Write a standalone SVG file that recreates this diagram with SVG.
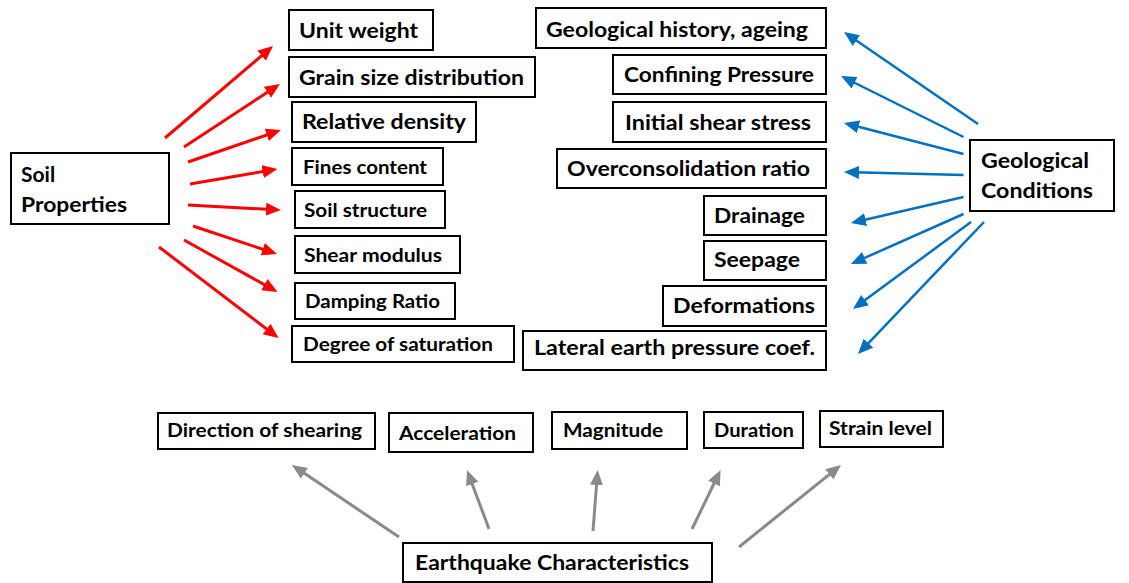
<svg xmlns="http://www.w3.org/2000/svg" width="1129" height="583" viewBox="0 0 1129 583">
  <style>
    .box { fill: #fff; stroke: #000; stroke-width: 2; }
    .lbl { font-family: Lato, "Noto Sans", "Liberation Sans", sans-serif; font-weight: bold; fill: #000; }
    .red { stroke: #ff0000; stroke-width: 3; fill: none; }
    .blue { stroke: #0070c0; stroke-width: 2.5; fill: none; }
    .grey { stroke: #8a8a8a; stroke-width: 3; fill: none; }
  </style>
  <defs>
    <marker id="ahRed" markerUnits="userSpaceOnUse" markerWidth="16" markerHeight="14" refX="5" refY="6.5" orient="auto">
      <path d="M0,0 L15,6.5 L0,13 z" fill="#ff0000"/>
    </marker>
    <marker id="ahBlue" markerUnits="userSpaceOnUse" markerWidth="16" markerHeight="14" refX="5" refY="6.5" orient="auto">
      <path d="M0,0 L15,6.5 L0,13 z" fill="#0070c0"/>
    </marker>
    <marker id="ahGrey" markerUnits="userSpaceOnUse" markerWidth="16" markerHeight="14" refX="5" refY="6.5" orient="auto">
      <path d="M0,0 L15,6.5 L0,13 z" fill="#8a8a8a"/>
    </marker>
  </defs>

  <rect width="1129" height="583" fill="#fff"/>

  <!-- connectors -->
  <g id="connectors">
    <g marker-end="url(#ahRed)" class="red">
      <line x1="165" y1="138" x2="265.4" y2="52.5"/>
      <line x1="184" y1="147" x2="271.6" y2="89.5"/>
      <line x1="188" y1="162" x2="271.5" y2="133.3"/>
      <line x1="190" y1="184" x2="267.6" y2="170.7"/>
      <line x1="188" y1="205" x2="271" y2="209.5"/>
      <line x1="193" y1="226" x2="267.5" y2="250.8"/>
      <line x1="184" y1="240" x2="268.8" y2="287.1"/>
      <line x1="159" y1="247" x2="270.6" y2="332"/>
    </g>
    <g marker-end="url(#ahBlue)" class="blue">
      <line x1="978" y1="124" x2="852.3" y2="37.7"/>
      <line x1="963.5" y1="137" x2="850" y2="80.5"/>
      <line x1="963.5" y1="154" x2="853.7" y2="125.5"/>
      <line x1="963.5" y1="175" x2="854" y2="172.3"/>
      <line x1="963.5" y1="197" x2="860.7" y2="220.8"/>
      <line x1="963.5" y1="214" x2="860.1" y2="259.9"/>
      <line x1="971" y1="222" x2="861" y2="303.1"/>
      <line x1="984" y1="222" x2="864.9" y2="346.8"/>
    </g>
    <g marker-end="url(#ahGrey)" class="grey">
      <line x1="399" y1="537" x2="300.3" y2="470.6"/>
      <line x1="489" y1="529" x2="470.5" y2="479.4"/>
      <line x1="593" y1="531" x2="596.9" y2="480"/>
      <line x1="692" y1="529" x2="716.2" y2="479"/>
      <line x1="739" y1="547" x2="833.2" y2="471.3"/>
    </g>
  </g>

  <!-- soil properties -->
  <g id="soil-properties">
    <rect class="box" x="11" y="153" width="158" height="71"/>
    <text class="lbl" font-size="21" x="21" y="182">Soil</text>
    <text class="lbl" font-size="21" x="21" y="212" textLength="106" lengthAdjust="spacingAndGlyphs">Properties</text>
  </g>
  <g id="unit-weight">
    <rect class="box" x="289" y="10" width="144" height="40"/>
    <text class="lbl" font-size="21" x="299" y="38" textLength="119" lengthAdjust="spacingAndGlyphs">Unit weight</text>
  </g>
  <g id="grain-size">
    <rect class="box" x="289" y="57" width="246" height="40"/>
    <text class="lbl" font-size="21" x="299" y="85" textLength="225" lengthAdjust="spacingAndGlyphs">Grain size distribution</text>
  </g>
  <g id="relative-density">
    <rect class="box" x="292" y="102" width="184" height="40"/>
    <text class="lbl" font-size="21" x="302" y="129" textLength="164" lengthAdjust="spacingAndGlyphs">Relative density</text>
  </g>
  <g id="fines-content">
    <rect class="box" x="292" y="148" width="151" height="37"/>
    <text class="lbl" font-size="19" x="303" y="174" textLength="124" lengthAdjust="spacingAndGlyphs">Fines content</text>
  </g>
  <g id="soil-structure">
    <rect class="box" x="295" y="191" width="150" height="37"/>
    <text class="lbl" font-size="19" x="304" y="217" textLength="123" lengthAdjust="spacingAndGlyphs">Soil structure</text>
  </g>
  <g id="shear-modulus">
    <rect class="box" x="295" y="236" width="165" height="37"/>
    <text class="lbl" font-size="19" x="304" y="262" textLength="138" lengthAdjust="spacingAndGlyphs">Shear modulus</text>
  </g>
  <g id="damping-ratio">
    <rect class="box" x="295" y="283" width="160" height="36"/>
    <text class="lbl" font-size="19" x="305" y="308" textLength="135" lengthAdjust="spacingAndGlyphs">Damping Ratio</text>
  </g>
  <g id="degree-of-saturation">
    <rect class="box" x="292" y="326" width="222" height="36"/>
    <text class="lbl" font-size="19" x="303" y="351" textLength="190" lengthAdjust="spacingAndGlyphs">Degree of saturation</text>
  </g>

  <!-- geological conditions -->
  <g id="geological-conditions">
    <rect class="box" x="970" y="140" width="144" height="71"/>
    <text class="lbl" font-size="21" x="981" y="168" textLength="108" lengthAdjust="spacingAndGlyphs">Geological</text>
    <text class="lbl" font-size="21" x="981" y="198" textLength="112" lengthAdjust="spacingAndGlyphs">Conditions</text>
  </g>
  <g id="geological-history">
    <rect class="box" x="536" y="8" width="290" height="40"/>
    <text class="lbl" font-size="20" x="546" y="37" textLength="262" lengthAdjust="spacingAndGlyphs">Geological history, ageing</text>
  </g>
  <g id="confining-pressure">
    <rect class="box" x="613" y="55" width="213" height="39"/>
    <text class="lbl" font-size="20" x="624" y="82" textLength="190" lengthAdjust="spacingAndGlyphs">Confining Pressure</text>
  </g>
  <g id="initial-shear-stress">
    <rect class="box" x="613" y="102" width="213" height="40"/>
    <text class="lbl" font-size="20" x="625" y="130" textLength="186" lengthAdjust="spacingAndGlyphs">Initial shear stress</text>
  </g>
  <g id="ocr">
    <rect class="box" x="557" y="149" width="269" height="39"/>
    <text class="lbl" font-size="20" x="567" y="176" textLength="243" lengthAdjust="spacingAndGlyphs">Overconsolidation ratio</text>
  </g>
  <g id="drainage">
    <rect class="box" x="704" y="196" width="122" height="39"/>
    <text class="lbl" font-size="20" x="714" y="223" textLength="91" lengthAdjust="spacingAndGlyphs">Drainage</text>
  </g>
  <g id="seepage">
    <rect class="box" x="704" y="241" width="122" height="39"/>
    <text class="lbl" font-size="20" x="714" y="267" textLength="86" lengthAdjust="spacingAndGlyphs">Seepage</text>
  </g>
  <g id="deformations">
    <rect class="box" x="663" y="286" width="163" height="40"/>
    <text class="lbl" font-size="20" x="673" y="313" textLength="142" lengthAdjust="spacingAndGlyphs">Deformations</text>
  </g>
  <g id="lateral-earth-pressure">
    <rect class="box" x="523" y="331" width="303" height="39"/>
    <text class="lbl" font-size="20" x="534" y="355" textLength="281" lengthAdjust="spacingAndGlyphs">Lateral earth pressure coef.</text>
  </g>

  <!-- earthquake characteristics -->
  <g id="earthquake-characteristics">
    <rect class="box" x="403" y="543" width="309" height="39"/>
    <text class="lbl" font-size="20" x="415" y="570" textLength="274" lengthAdjust="spacingAndGlyphs">Earthquake Characteristics</text>
  </g>
  <g id="direction-of-shearing">
    <rect class="box" x="158" y="413" width="217" height="36"/>
    <text class="lbl" font-size="18" x="167" y="437" textLength="195" lengthAdjust="spacingAndGlyphs">Direction of shearing</text>
  </g>
  <g id="acceleration">
    <rect class="box" x="389" y="413" width="144" height="39"/>
    <text class="lbl" font-size="18" x="399" y="440" textLength="117" lengthAdjust="spacingAndGlyphs">Acceleration</text>
  </g>
  <g id="magnitude">
    <rect class="box" x="552" y="412" width="135" height="37"/>
    <text class="lbl" font-size="18" x="563" y="437" textLength="100" lengthAdjust="spacingAndGlyphs">Magnitude</text>
  </g>
  <g id="duration">
    <rect class="box" x="704" y="412" width="99" height="36"/>
    <text class="lbl" font-size="18" x="714" y="437" textLength="80" lengthAdjust="spacingAndGlyphs">Duration</text>
  </g>
  <g id="strain-level">
    <rect class="box" x="820" y="411" width="123" height="36"/>
    <text class="lbl" font-size="18" x="829" y="435" textLength="103" lengthAdjust="spacingAndGlyphs">Strain level</text>
  </g>
</svg>
